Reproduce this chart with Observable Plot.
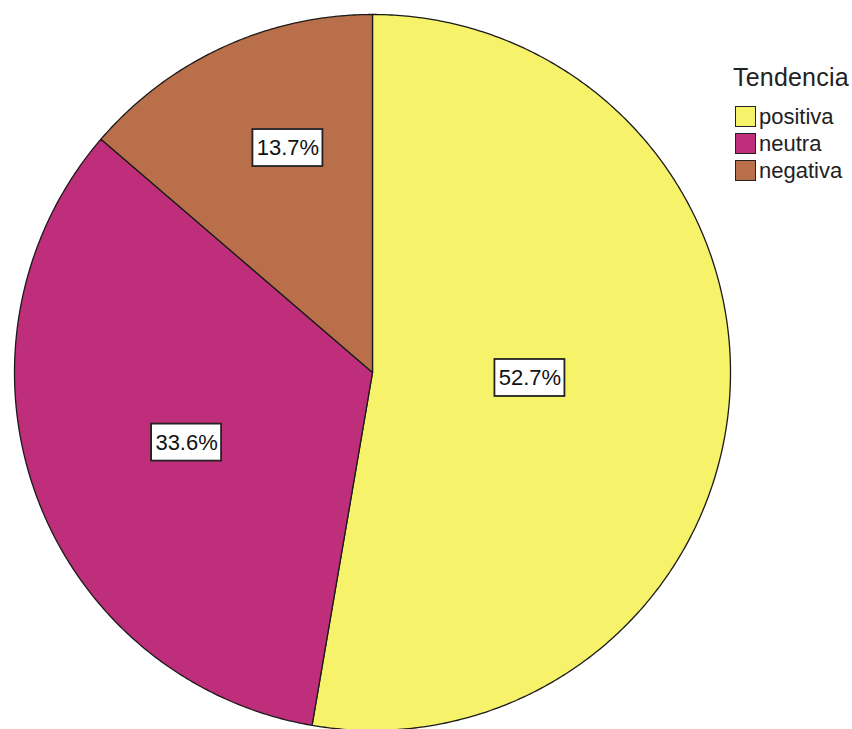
<!DOCTYPE html>
<html>
<head>
<meta charset="utf-8">
<script src="https://cdn.jsdelivr.net/npm/d3@7"></script>
<script src="https://cdn.jsdelivr.net/npm/@observablehq/plot@0.6"></script>
<style>
  html, body { margin: 0; padding: 0; background: #ffffff; }
  #wrap { position: relative; width: 852px; height: 729px; overflow: hidden; }
  #legend { position: absolute; left: 0; top: 0; font-family: "Liberation Sans", Arial, sans-serif; color: #222; }
  #legend .title { position: absolute; left: 733px; top: 65px; font-size: 25px; line-height: 25px; letter-spacing: 0.2px; white-space: nowrap; }
  #legend .row { position: absolute; left: 735px; display: flex; align-items: center; height: 25px; line-height: 25px; font-size: 22px; white-space: nowrap; }
  #legend .sw { width: 21px; height: 21px; border: 1.8px solid #222; margin-right: 3px; box-sizing: border-box; }
</style>
</head>
<body>
<div id="wrap"><div id="chart"></div><div id="legend"></div></div>
<script>
const categories = ["positiva", "neutra", "negativa"];
const values = [52.7, 33.6, 13.7];
const labels = ["52.7%", "33.6%", "13.7%"];
const colors = ["#f6f36a", "#bf2e7a", "#b96f4a"];
const legendTitle = "Tendencia";

// layout
const W = 852, H = 729, cx = 372, cy = 372, R = 358;
const labelRadius = [0.44, 0.555, 0.67];
const labelShift = [-0.05, -0.015, 0.07];
const boxW = 70 / R, boxH = 37 / R;

const total = d3.sum(values);
let acc = 0;
const slices = categories.map((c, i) => {
  const a0 = acc / total * 2 * Math.PI;
  acc += values[i];
  const a1 = acc / total * 2 * Math.PI;
  return {category: c, a0, a1, i};
});

const pts = [];
for (const s of slices) {
  pts.push({category: s.category, x: 0, y: 0});
  const n = Math.max(4, Math.ceil((s.a1 - s.a0) / (Math.PI / 360)));
  for (let k = 0; k <= n; k++) {
    const a = s.a0 + (s.a1 - s.a0) * k / n;
    pts.push({category: s.category, x: Math.sin(a), y: Math.cos(a)});
  }
  pts.push({category: s.category, x: 0, y: 0});
}

const labelData = slices.map(s => {
  const m = (s.a0 + s.a1) / 2 + labelShift[s.i], r = labelRadius[s.i];
  return {label: labels[s.i], x: r * Math.sin(m), y: r * Math.cos(m)};
});

const chart = Plot.plot({
  width: W, height: H,
  margin: 0,
  x: {domain: [-cx / R, (W - cx) / R], axis: null},
  y: {domain: [-(H - cy) / R, cy / R], axis: null},
  color: {domain: categories, range: colors},
  style: {fontFamily: "'Liberation Sans', Arial, sans-serif", background: "transparent"},
  marks: [
    Plot.line(pts, {x: "x", y: "y", z: "category", fill: "category", stroke: "#1a1a1a", strokeWidth: 1.3, curve: "linear"}),
    Plot.rect(labelData, {x1: d => d.x - boxW / 2, x2: d => d.x + boxW / 2, y1: d => d.y - boxH / 2, y2: d => d.y + boxH / 2, fill: "white", stroke: "#222", strokeWidth: 1.8}),
    Plot.text(labelData, {x: "x", y: "y", text: "label", fontSize: 22, fill: "#111"})
  ]
});
document.getElementById("chart").appendChild(chart);

const lg = document.getElementById("legend");
const t = document.createElement("div");
t.className = "title"; t.textContent = legendTitle;
lg.appendChild(t);
categories.forEach((c, i) => {
  const row = document.createElement("div"); row.className = "row";
  row.style.top = (104 + 27 * i) + "px";
  const sw = document.createElement("div"); sw.className = "sw"; sw.style.background = colors[i];
  const tx = document.createElement("span"); tx.textContent = c;
  row.appendChild(sw); row.appendChild(tx); lg.appendChild(row);
});
</script>
</body>
</html>
